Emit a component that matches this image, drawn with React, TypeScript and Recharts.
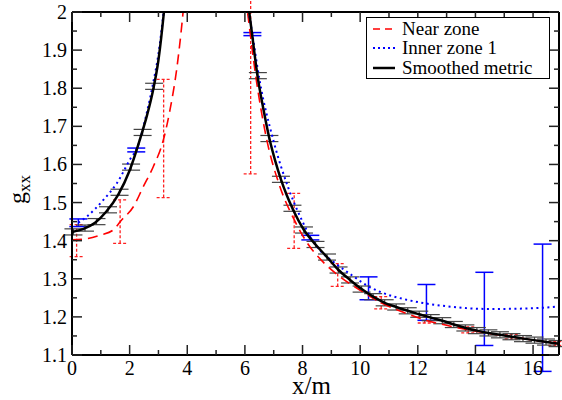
import { ComposedChart, Line, Scatter, ErrorBar, XAxis, YAxis } from 'recharts';

// curves (null breaks the line across the divergence)
const nearX = [0, 0.5, 1.0, 1.43, 1.72, 2.13, 2.47, 2.82, 3.17, 3.4, 3.63, 3.84, 3.95, 5, 5.95, 6.09, 6.38, 6.75, 7.2, 7.71, 8.2, 8.7, 9.22, 10.0, 10.73, 11.5, 12.24, 13.0, 13.75, 14.5, 15.26, 16.0, 16.77, 17];
const nearY = [1.402, 1.405, 1.415, 1.428, 1.454, 1.489, 1.541, 1.594, 1.664, 1.743, 1.848, 1.988, 2.08, null, 2.08, 2.0, 1.83, 1.668, 1.545, 1.455, 1.39, 1.345, 1.31, 1.27, 1.237, 1.212, 1.192, 1.178, 1.166, 1.156, 1.148, 1.139, 1.131, 1.128];

const innerX = [0.22, 0.51, 1.09, 1.55, 2.07, 2.23, 2.59, 2.82, 3.0, 3.18, 3.3, 5, 6.0, 6.14, 6.26, 6.5, 7.0, 7.5, 8.0, 8.27, 8.6, 9.06, 9.7, 10.29, 10.68, 11.61, 12.3, 13.0, 13.69, 14.31, 15.0, 15.7, 16.33, 17];
const innerY = [1.447, 1.463, 1.507, 1.55, 1.62, 1.638, 1.734, 1.815, 1.89, 2.0, 2.08, null, 2.09, 2.0, 1.942, 1.825, 1.66, 1.54, 1.45, 1.41, 1.375, 1.345, 1.31, 1.28, 1.266, 1.245, 1.235, 1.228, 1.223, 1.221, 1.221, 1.222, 1.224, 1.228];

const smoothX = [0, 0.4, 0.8, 1.2, 1.6, 2.0, 2.4, 2.6, 2.8, 3.0, 3.19, 3.3, 5, 6.0, 6.15, 6.24, 6.44, 6.65, 6.85, 7.05, 7.25, 7.45, 7.65, 8.05, 8.45, 8.85, 9.25, 9.65, 10.05, 10.45, 10.85, 11.25, 11.65, 12.05, 12.45, 12.85, 13.25, 13.65, 14.05, 14.45, 14.85, 15.25, 15.65, 16.05, 16.45, 16.85, 17];
const smoothY = [1.423, 1.431, 1.447, 1.477, 1.52, 1.584, 1.676, 1.728, 1.79, 1.874, 2.0, 2.09, null, 2.1, 2.0, 1.947, 1.831, 1.742, 1.668, 1.61, 1.561, 1.52, 1.485, 1.428, 1.39, 1.357, 1.323, 1.297, 1.273, 1.253, 1.237, 1.226, 1.216, 1.207, 1.198, 1.19, 1.18, 1.171, 1.164, 1.158, 1.153, 1.148, 1.143, 1.139, 1.134, 1.13, 1.128];

// data points with error bars
const smoothPtX = [0.05, 0.45, 0.85, 1.25, 1.65, 2.05, 2.45, 2.85, 6.45, 6.85, 7.25, 7.65, 8.05, 8.45, 8.85, 9.25, 9.65, 10.05, 10.45, 10.85, 11.25, 11.65, 12.05, 12.45, 12.85, 13.25, 13.65, 14.05, 14.45, 14.85, 15.25, 15.65, 16.05, 16.45, 16.85];
const smoothPtY = [1.423, 1.433, 1.45, 1.481, 1.527, 1.593, 1.684, 1.805, 1.833, 1.668, 1.561, 1.485, 1.428, 1.39, 1.357, 1.323, 1.297, 1.273, 1.253, 1.237, 1.226, 1.216, 1.207, 1.198, 1.19, 1.18, 1.171, 1.164, 1.158, 1.153, 1.148, 1.143, 1.139, 1.134, 1.13];
const smoothPtErr = 0.008;

const nearPtX = [0.16, 1.67, 3.18, 6.2, 7.71, 9.22, 10.73, 12.24, 13.75, 15.26, 16.77];
const nearPtY = [1.40, 1.45, 1.668, 1.95, 1.452, 1.31, 1.237, 1.192, 1.166, 1.148, 1.13];
const nearPtErr = [0.042, 0.057, 0.155, 0.375, 0.072, 0.03, 0.016, 0.008, 0.008, 0.006, 0.005];

const innerPtX = [0.22, 2.23, 6.26, 8.27, 10.29, 12.3, 14.31, 16.33];
const innerPtY = [1.447, 1.638, 1.942, 1.408, 1.275, 1.238, 1.221, 1.224];
const innerPtErr = [0.01, 0.005, 0.004, 0.006, 0.03, 0.047, 0.096, 0.167];

const xTicks = [0, 1, 2, 3, 4, 5, 6, 7, 8, 9, 10, 11, 12, 13, 14, 15, 16];
const yTicks = [1.1, 1.15, 1.2, 1.25, 1.3, 1.35, 1.4, 1.45, 1.5, 1.55, 1.6, 1.65, 1.7, 1.75, 1.8, 1.85, 1.9, 1.95, 2];

const zip = (xs: number[], ys: (number | null)[]) => xs.map((x, i) => ({ x, y: ys[i] }));
const nearData = zip(nearX, nearY);
const innerData = zip(innerX, innerY);
const smoothData = zip(smoothX, smoothY);
const smoothPts = smoothPtX.map((x, i) => ({ x, y: smoothPtY[i], err: smoothPtErr }));
const nearPts = nearPtX.map((x, i) => ({ x, y: nearPtY[i], err: nearPtErr[i] }));
const innerPts = innerPtX.map((x, i) => ({ x, y: innerPtY[i], err: innerPtErr[i] }));

const TICK = '#222';

const BottomTick = ({ x, y, payload }: any) => {
  const major = payload.value % 2 === 0;
  return (
    <g>
      <line x1={x} x2={x} y1={y} y2={y - (major ? 10 : 5)} stroke={TICK} strokeWidth={1.5} />
      {major && (
        <text x={x} y={y + 20} textAnchor="middle" fontSize={20} fill="#000">{payload.value}</text>
      )}
    </g>
  );
};

const TopTick = ({ x, y, payload }: any) => {
  const major = payload.value % 2 === 0;
  return <line x1={x} x2={x} y1={y} y2={y + (major ? 10 : 5)} stroke={TICK} strokeWidth={1.5} />;
};

const LeftTick = ({ x, y, payload, index }: any) => {
  const major = index % 2 === 0;
  const v = payload.value;
  return (
    <g>
      <line x1={x} x2={x + (major ? 10 : 5)} y1={y} y2={y} stroke={TICK} strokeWidth={1.5} />
      {major && (
        <text x={x - 5} y={y + 7} textAnchor="end" fontSize={20} fill="#000">
          {v === 2 ? '2' : v.toFixed(1)}
        </text>
      )}
    </g>
  );
};

const RightTick = ({ x, y, index }: any) => {
  const major = index % 2 === 0;
  return <line x1={x} x2={x - (major ? 10 : 5)} y1={y} y2={y} stroke={TICK} strokeWidth={1.5} />;
};

const YLabel = () => (
  <text transform="translate(25,204) rotate(-90)" fontSize={24} fill="#000">
    g<tspan fontSize={17} dy={5}>xx</tspan>
  </text>
);

const legendItems = [
  { name: 'Near zone', color: '#ff0000', dash: '7 5', width: 1.5 },
  { name: 'Inner zone 1', color: '#0000ff', dash: '2 3', width: 1.8 },
  { name: 'Smoothed metric', color: '#000', dash: undefined, width: 2.5 },
];

export default function App() {
  return (
    <div style={{ position: 'absolute', left: 0, top: 0, width: 562, height: 400, background: '#fff', fontFamily: '"Liberation Serif", "Times New Roman", serif' }}>
      <ComposedChart width={562} height={400} margin={{ top: 0, right: 0, bottom: 0, left: 0 }}>
        <XAxis dataKey="x" type="number" domain={[0, 16.9]} ticks={xTicks} allowDataOverflow
          height={45} axisLine={{ stroke: '#000', strokeWidth: 2 }} tickLine={false} tickSize={0} tickMargin={0}
          tick={<BottomTick />} interval={0}
          label={{ value: 'x/m', position: 'insideBottom', offset: 6, fontSize: 25, fill: '#000', dx: -4 }} />
        <XAxis xAxisId="t" orientation="top" dataKey="x" type="number" domain={[0, 16.9]} ticks={xTicks} allowDataOverflow
          height={12} axisLine={{ stroke: '#000', strokeWidth: 2 }} tickLine={false} tickSize={0} tickMargin={0}
          tick={<TopTick />} interval={0} />
        <YAxis dataKey="y" type="number" domain={[1.1, 2]} ticks={yTicks} allowDataOverflow
          width={72} axisLine={{ stroke: '#000', strokeWidth: 2 }} tickLine={false} tickSize={0} tickMargin={0}
          tick={<LeftTick />} interval={0} label={<YLabel />} />
        <YAxis yAxisId="r" orientation="right" dataKey="y" type="number" domain={[1.1, 2]} ticks={yTicks} allowDataOverflow
          width={3} axisLine={{ stroke: '#000', strokeWidth: 2 }} tickLine={false} tickSize={0} tickMargin={0}
          tick={<RightTick />} interval={0} />

        <Scatter data={nearPts} dataKey="y" isAnimationActive={false} shape={() => <g />}>
          <ErrorBar dataKey="err" direction="y" width={7} stroke="#ff2020" strokeWidth={1.3} strokeDasharray="3 2" />
        </Scatter>
        <Scatter data={innerPts} dataKey="y" isAnimationActive={false} shape={() => <g />}>
          <ErrorBar dataKey="err" direction="y" width={9} stroke="#0000ff" strokeWidth={1.5} />
        </Scatter>
        <Scatter data={smoothPts} dataKey="y" isAnimationActive={false} shape={() => <g />}>
          <ErrorBar dataKey="err" direction="y" width={9} stroke="#444" strokeWidth={1.2} />
        </Scatter>

        <Line data={nearData} dataKey="y" type="monotone" stroke="#ff0000" strokeWidth={1.6} strokeDasharray="10 6"
          dot={false} activeDot={false} isAnimationActive={false} connectNulls={false} />
        <Line data={innerData} dataKey="y" type="monotone" stroke="#0000ff" strokeWidth={2} strokeDasharray="2 3.5"
          dot={false} activeDot={false} isAnimationActive={false} connectNulls={false} />
        <Line data={smoothData} dataKey="y" type="monotone" stroke="#000" strokeWidth={2.5}
          dot={false} activeDot={false} isAnimationActive={false} connectNulls={false} />
      </ComposedChart>

      <div style={{ position: 'absolute', left: 366, top: 17, width: 184, height: 62, border: '1.5px solid #000', background: '#fff', boxSizing: 'border-box', padding: '1px 0 0 5px' }}>
        {legendItems.map((it) => (
          <div key={it.name} style={{ display: 'flex', alignItems: 'center', height: 19.3, fontSize: 19, lineHeight: '19.3px', whiteSpace: 'nowrap' }}>
            <svg width={30} height={19} style={{ flex: 'none' }}>
              <line x1={1} x2={23} y1={10} y2={10} stroke={it.color} strokeWidth={it.width} strokeDasharray={it.dash} />
            </svg>
            <span>{it.name}</span>
          </div>
        ))}
      </div>
    </div>
  );
}
